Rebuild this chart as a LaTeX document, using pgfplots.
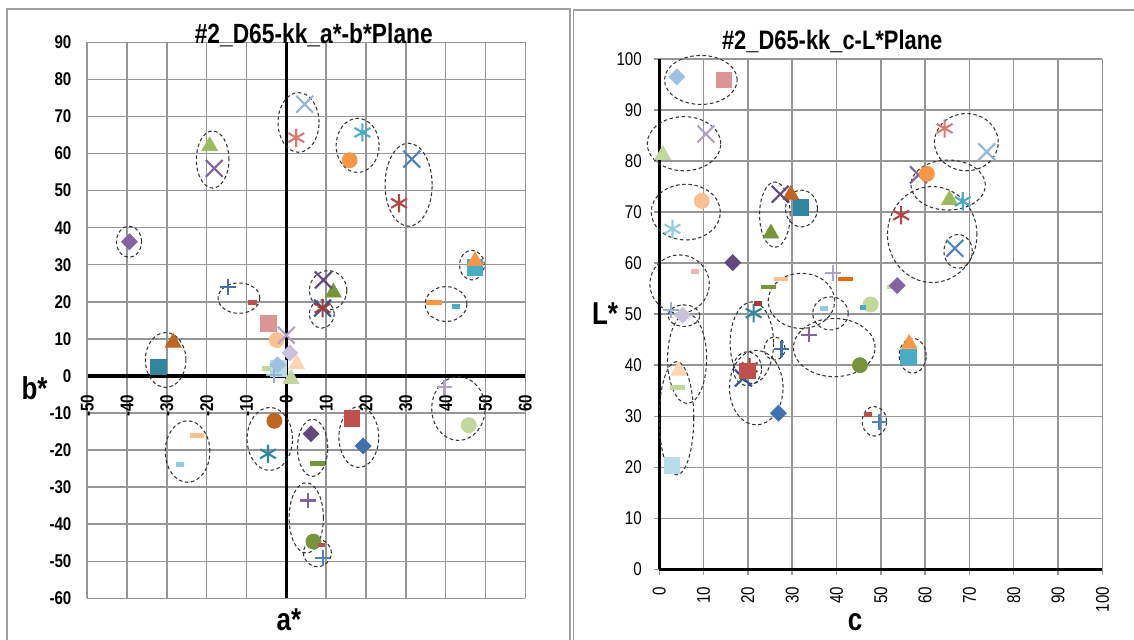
\documentclass[border=0pt]{standalone}
\usepackage{pgfplots}
\pgfplotsset{compat=1.18}
\usepackage{fontspec}
\setmainfont{Liberation Sans}[FakeStretch=0.82]

\definecolor{gridgray}{RGB}{150,150,150}
\definecolor{framegray}{RGB}{160,160,160}
\definecolor{cBlue}{HTML}{4F81BD}
\definecolor{cBlueM}{HTML}{4270AE}
\definecolor{cBlueD}{HTML}{2F5597}
\definecolor{cBlueL}{HTML}{95B3D7}
\definecolor{cRed}{HTML}{C0504D}
\definecolor{cRedM}{HTML}{D77A76}
\definecolor{cRedD}{HTML}{A33B39}
\definecolor{cRedD2}{HTML}{B24845}
\definecolor{cRedL}{HTML}{D99694}
\definecolor{cRedLL}{HTML}{E6B9B8}
\definecolor{cGreen}{HTML}{9BBB59}
\definecolor{cGreenD}{HTML}{77933C}
\definecolor{cGreenL}{HTML}{C3D69B}
\definecolor{cPurp}{HTML}{8064A2}
\definecolor{cPurpD}{HTML}{604A7B}
\definecolor{cPurpL}{HTML}{B3A2C7}
\definecolor{cPurpLL}{HTML}{CCC1DA}
\definecolor{cTeal}{HTML}{4BACC6}
\definecolor{cTealD}{HTML}{31859C}
\definecolor{cTealL}{HTML}{93CDDD}
\definecolor{cTealLL}{HTML}{B7DEE8}
\definecolor{cOrng}{HTML}{F79646}
\definecolor{cOrngD}{HTML}{E46C0A}
\definecolor{cOrngL}{HTML}{FAC090}
\definecolor{cOrngLL}{HTML}{FCD5B5}
\definecolor{cBrown}{HTML}{C0651E}
\definecolor{cLtDia}{HTML}{9FC0DF}

\pgfplotsset{
  dia/.style={only marks, color=#1, mark=square*, mark size=3.2pt, mark options={rotate=45, draw=none, fill=#1}},
  sq/.style={only marks, color=#1, mark=square*, mark size=4.4pt, mark options={draw=none, fill=#1}},
  tri/.style={only marks, color=#1, mark=triangle*, mark size=5.2pt, mark options={draw=none, fill=#1}},
  cir/.style={only marks, color=#1, mark=*, mark size=4.3pt, mark options={draw=none, fill=#1}},
  xm/.style={only marks, color=#1, mark=x, mark size=6.8pt, mark options={line width=1.2pt}},
  ast/.style={only marks, color=#1, mark=asterisk, mark size=5.2pt, mark options={line width=1.2pt}},
  pl/.style={only marks, color=#1, mark=+, mark size=4.5pt, mark options={line width=1.2pt}},
  da/.style 2 args={only marks, color=#1, mark=-, mark size=#2, mark options={line width=2.7pt}},
}
\tikzset{ellst/.style={black!80, line width=0.6pt, dash pattern=on 2pt off 1.5pt}}
\newcommand{\elli}[4]{\draw[ellst] (axis cs:#1,#2) ellipse [x radius=#3, y radius=#4];}

\begin{document}
\begin{tikzpicture}
\path[use as bounding box] (0,0) rectangle (22.68cm,12.78cm);
\draw[framegray, line width=1pt] (0.146cm,-0.1cm) -- (0.146cm,12.594cm) -- (11.4cm,12.594cm) -- (11.4cm,-0.1cm);
\draw[framegray, line width=1pt] (11.47cm,-0.1cm) -- (11.47cm,12.58cm) -- (22.9cm,12.58cm);

% ---------------- left: a*-b* plane ----------------
\begin{axis}[
  at={(1.744cm,0.814cm)}, anchor=south west, scale only axis,
  width=8.762cm, height=11.118cm,
  xmin=-50, xmax=60, ymin=-60, ymax=90,
  xtick={-50,-40,...,60}, ytick={-60,-50,...,90},
  axis x line=middle, axis y line=left,
  hide obscured x ticks=false, hide obscured y ticks=false,
  x axis line style={-, black, line width=1.8pt},
  y axis line style={-, draw=gridgray, line width=0.8pt},
  grid=major, grid style={gridgray, line width=0.8pt},
  major tick length=0pt,
  /pgf/number format/assume math mode=true,
  ticklabel style={font=\bfseries\fontsize{10.5}{12}\selectfont, inner sep=0pt},
  xticklabel style={rotate=90, anchor=east},
  xticklabel shift=10.5pt, yticklabel shift=8.8pt,
  clip=false,
]
\draw[black, line width=1.8pt] (axis cs:0,-60) -- (axis cs:0,90);
% hidden / underneath
\addplot[da={cGreenL}{2.2pt}] coordinates {(-39.9,35.6)};
\addplot[xm=cBlueD] coordinates {(9.1,18.3)};
\addplot[sq=cTealLL] coordinates {(-2,2)};
\addplot[tri=cGreenL] coordinates {(1.2,-0.8)};
\addplot[pl=cBlueL] coordinates {(-3.1,0.2)};
\addplot[da={cGreenL}{2.6pt}] coordinates {(-4.9,2.1)};
% diamonds
\addplot[dia=cPurp] coordinates {(-39.4,36.2)};
\addplot[dia=cPurpD] coordinates {(6.2,-15.6)};
\addplot[dia=cBlueM] coordinates {(19.3,-18.9)};
\addplot[dia=cLtDia] coordinates {(-2.2,3.0)};
\addplot[dia=cPurpLL] coordinates {(0.9,6.2)};
% squares
\addplot[sq=cRedL] coordinates {(-4.5,14.2)};
\addplot[sq=cTealD] coordinates {(-32.1,2.5)};
\addplot[sq=cTeal] coordinates {(47.3,29.3)};
\addplot[sq=cRed] coordinates {(16.4,-11.4)};
% triangles
\addplot[tri=cGreen] coordinates {(-19.25,62)};
\addplot[tri=cOrng] coordinates {(47.4,31)};
\addplot[tri=cGreenD] coordinates {(11.8,22.5)};
\addplot[tri=cBrown] coordinates {(-28.4,9)};
\addplot[tri=cOrngLL] coordinates {(2.6,3.2)};
% circles
\addplot[cir=cOrng] coordinates {(15.9,58.2)};
\addplot[cir=cOrngL] coordinates {(-2.4,9.7)};
\addplot[cir=cBrown] coordinates {(-3.0,-12.1)};
\addplot[cir=cGreenL] coordinates {(45.8,-13.3)};
\addplot[cir=cGreenD] coordinates {(6.8,-44.7)};
% x marks
\addplot[xm=cPurp] coordinates {(-18.1,56.0)};
\addplot[xm=cBlueL] coordinates {(4.6,73.3)};
\addplot[xm=cBlue] coordinates {(31.5,58.5)};
\addplot[xm=cPurpD] coordinates {(9.3,25.9)};
\addplot[xm=cPurpL] coordinates {(0.0,11.0)};
% asterisks
\addplot[ast=cRedM] coordinates {(2.5,64.3)};
\addplot[ast=cTeal] coordinates {(19.1,65.7)};
\addplot[ast=cRedD2] coordinates {(28.3,46.6)};
\addplot[ast=cRedD] coordinates {(9.1,18.3)};
\addplot[ast=cTealD] coordinates {(-4.6,-21.0)};
% plus
\addplot[pl=cBlueM] coordinates {(-14.6,24.1)};
\addplot[pl=cPurp] coordinates {(5.5,-33.6)};
\addplot[pl=cPurpL] coordinates {(39.7,-3.1)};
\addplot[pl=cBlue] coordinates {(9.1,-49.2)};
% dashes
\addplot[da={cRed}{2.6pt}] coordinates {(-8.5,19.9)};
\addplot[da={cOrng}{4.5pt}] coordinates {(37,19.9)};
\addplot[da={cTeal}{2.2pt}] coordinates {(42.6,18.7)};
\addplot[da={cOrngL}{4pt}] coordinates {(-22.4,-16.0)};
\addplot[da={cTealL}{2.2pt}] coordinates {(-26.7,-23.9)};
\addplot[da={cGreenD}{4.3pt}] coordinates {(7.9,-23.7)};
\addplot[da={cRed}{2pt}] coordinates {(8.9,-45.6)};
% ellipses
\elli{-39.5}{36.2}{3.15}{4.2}
\elli{-18.5}{58.4}{4.1}{7.7}
\elli{3.06}{68.4}{5.15}{8.05}
\elli{17.9}{62.2}{5.4}{7.3}
\elli{30.7}{51.6}{5.9}{11.2}
\elli{46.6}{29.9}{3.1}{4.0}
\elli{-11.9}{21.0}{5.25}{4.1}
\elli{10.5}{23.1}{4.7}{5.3}
\elli{8.9}{16.7}{3.1}{3.8}
\elli{40.1}{19.4}{5.25}{4.7}
\elli{-30.3}{4.3}{5.1}{7.4}
\elli{-24.8}{-20.4}{5.6}{8.3}
\elli{-4.15}{-17.0}{5.7}{8.5}
\elli{6.6}{-19.4}{3.8}{7.7}
\elli{18.2}{-16.5}{5.0}{8.2}
\elli{43.2}{-8.8}{6.7}{8.6}
\elli{5.0}{-38.3}{4.3}{9.5}
\elli{7.8}{-47.75}{3.5}{3.7}
\end{axis}

% ---------------- right: c-L* plane ----------------
\begin{axis}[
  at={(13.184cm,1.394cm)}, anchor=south west, scale only axis,
  width=8.864cm, height=10.206cm,
  xmin=0, xmax=100, ymin=0, ymax=100,
  xtick={0,10,...,100}, ytick={0,10,...,100},
  axis lines=left,
  hide obscured x ticks=false, hide obscured y ticks=false,
  axis line style={-, black, line width=1.8pt},
  grid=major, grid style={gridgray, line width=0.8pt},
  tick align=outside, major tick length=3pt,
  tick style={gridgray, line width=0.8pt},
  /pgf/number format/assume math mode=true,
  ticklabel style={font=\fontsize{10.5}{12}\selectfont, inner sep=0pt},
  xticklabel style={rotate=90, anchor=east},
  xticklabel shift=6.9pt, yticklabel shift=6.7pt,
  clip=false,
]
% underneath
\addplot[xm=cBlueD] coordinates {(19.0,37.5)};
\addplot[ast=cRedD] coordinates {(20.4,39.6)};
\addplot[xm=cPurp] coordinates {(58.5,77.3)};
\addplot[da={cGreenL}{2pt}] coordinates {(52.1,55.3)};
% diamonds
\addplot[dia=cLtDia] coordinates {(4.0,96.5)};
\addplot[dia=cPurpD] coordinates {(16.6,60.1)};
\addplot[dia=cPurp] coordinates {(53.7,55.6)};
\addplot[dia=cBlueM] coordinates {(26.9,30.6)};
\addplot[dia=cPurpLL] coordinates {(5.3,49.8)};
% squares
\addplot[sq=cRedL] coordinates {(14.6,95.9)};
\addplot[sq=cTealD] coordinates {(32.0,70.9)};
\addplot[sq=cTeal] coordinates {(56.2,41.6)};
\addplot[sq=cRed] coordinates {(19.9,38.9)};
\addplot[sq=cTealLL] coordinates {(2.8,20.4)};
% triangles
\addplot[tri=cGreenL] coordinates {(0.8,81.2)};
\addplot[tri=cGreenD] coordinates {(25.2,65.8)};
\addplot[tri=cBrown] coordinates {(29.7,73.4)};
\addplot[tri=cGreen] coordinates {(65.5,72.4)};
\addplot[tri=cOrng] coordinates {(56.4,44.2)};
\addplot[tri=cOrngLL] coordinates {(4.4,38.9)};
% circles
\addplot[cir=cOrng] coordinates {(60.4,77.5)};
\addplot[cir=cOrngL] coordinates {(9.6,72.2)};
\addplot[cir=cGreenL] coordinates {(47.7,51.9)};
\addplot[cir=cGreenD] coordinates {(45.3,40.0)};
% x marks
\addplot[xm=cPurpL] coordinates {(10.55,85.3)};
\addplot[xm=cBlueL] coordinates {(73.9,81.8)};
\addplot[xm=cBlue] coordinates {(66.7,62.9)};
\addplot[xm=cPurpD] coordinates {(27.3,73.5)};
% asterisks
\addplot[ast=cRedM] coordinates {(64.4,86.4)};
\addplot[ast=cTeal] coordinates {(68.5,72.1)};
\addplot[ast=cRedD2] coordinates {(54.6,69.4)};
\addplot[ast=cTealL] coordinates {(3.0,66.7)};
\addplot[ast=cTealD] coordinates {(21.3,50.2)};
% plus
\addplot[pl=cPurp] coordinates {(33.8,46.0)};
\addplot[pl=cBlueM] coordinates {(27.6,43.1)};
\addplot[pl=cBlue] coordinates {(49.7,28.9)};
\addplot[pl=cPurpL] coordinates {(39.3,58.0)};
\addplot[pl=cBlueL] coordinates {(2.6,50.8)};
% dashes
\addplot[da={cRedLL}{2.2pt}] coordinates {(8.1,58.3)};
\addplot[da={cOrngL}{4pt}] coordinates {(27.4,56.9)};
\addplot[da={cGreenD}{4.3pt}] coordinates {(24.7,55.3)};
\addplot[da={cOrngD}{4.4pt}] coordinates {(42.0,56.9)};
\addplot[da={cTeal}{1.5pt}] coordinates {(46.0,51.3)};
\addplot[da={cTealL}{2.3pt}] coordinates {(37.1,51.1)};
\addplot[da={cRedD}{2.3pt}] coordinates {(22.2,52.1)};
\addplot[da={cRed}{2.3pt}] coordinates {(47.1,30.4)};
\addplot[da={cGreenL}{4.2pt}] coordinates {(4.1,35.6)};
% ellipses
\elli{9.4}{95.9}{8.2}{4.8}
\elli{5.6}{83.4}{8.3}{5.3}
\elli{6.0}{70.0}{7.8}{5.45}
\elli{26.1}{69.5}{3.45}{6.4}
\elli{32.1}{70.7}{3.6}{3.6}
\elli{69.3}{83.7}{7.2}{5.6}
\elli{65.2}{75.3}{8.4}{4.9}
\elli{61.6}{65.6}{10.1}{9.4}
\elli{67.45}{62.3}{3.2}{3.3}
\elli{4.6}{55.9}{6.7}{5.7}
\elli{5.6}{49.7}{3.6}{2.1}
\elli{6.3}{41.3}{4.4}{8.8}
\elli{3.9}{29.6}{3.9}{11.1}
\elli{20.9}{44.4}{4.9}{8.0}
\elli{19.9}{39.3}{3.2}{3.3}
\elli{21.9}{35.6}{6.05}{7.3}
\elli{26.05}{43.25}{2.35}{2.25}
\elli{32.1}{52.6}{7.5}{5.4}
\elli{38.65}{50.15}{4.0}{3.25}
\elli{39.5}{43.45}{9.2}{5.7}
\elli{57.2}{41.85}{3.05}{3.4}
\elli{48.55}{29.0}{2.75}{2.9}
\end{axis}

% titles and axis labels
\node[anchor=base, font=\bfseries\fontsize{15.8}{18}\selectfont] at (6.276cm,11.914cm) {\#2\_D65-kk\_a*-b*Plane};
\node[anchor=base, font=\bfseries\fontsize{15.2}{17}\selectfont] at (16.644cm,11.78cm) {\#2\_D65-kk\_c-L*Plane};
\node[anchor=base, font=\bfseries\fontsize{18}{20}\selectfont] at (0.69cm,4.78cm) {b*};
\node[anchor=base, font=\bfseries\fontsize{18}{20}\selectfont] at (5.78cm,0.18cm) {a*};
\node[anchor=base, font=\bfseries\fontsize{18}{20}\selectfont] at (12.1cm,6.28cm) {L*};
\node[anchor=base, font=\bfseries\fontsize{18}{20}\selectfont] at (17.1cm,0.18cm) {c};
\end{tikzpicture}
\end{document}
